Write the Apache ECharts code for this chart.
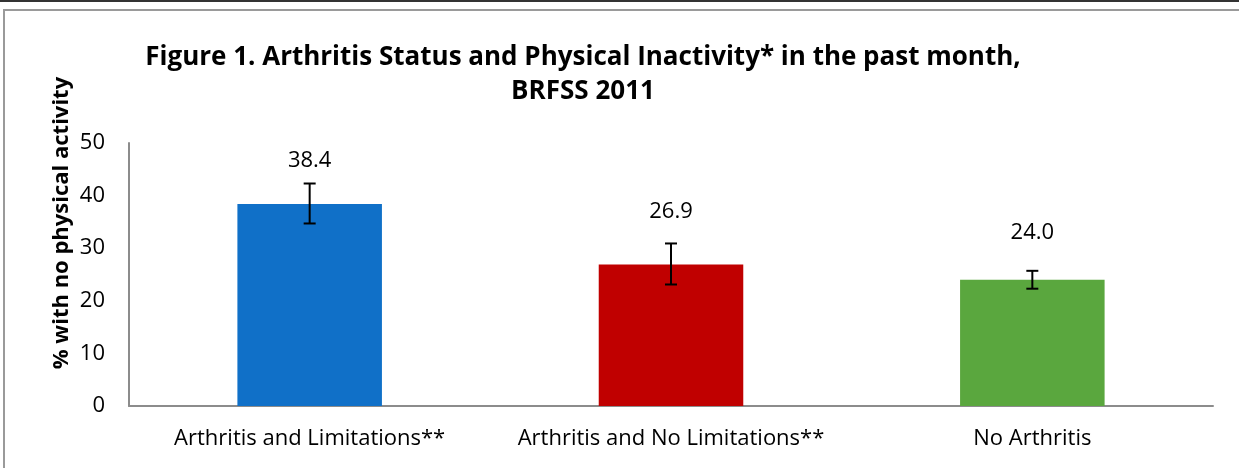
<!DOCTYPE html>
<html>
<head>
<meta charset="utf-8">
<script src="https://cdn.jsdelivr.net/npm/echarts@6/dist/echarts.min.js"></script>
<style>
  html, body { margin: 0; padding: 0; background: #fff; }
  #chart { width: 1239px; height: 468px; }
</style>
</head>
<body>
<div id="chart"></div>
<script>
// 数据
const categories = ['Arthritis and Limitations**', 'Arthritis and No Limitations**', 'No Arthritis']
const values = [38.4, 26.9, 24.0]
const errLow = [34.7, 23.1, 22.3]
const errHigh = [42.3, 30.9, 25.7]
const barColors = ['#1070C8', '#C00000', '#5AA73E']
const labelGap = [32, 42, 36]

const fontFamily = 'Open Sans, Liberation Sans, sans-serif'
const chart = echarts.init(document.getElementById('chart'))

const option = {
  animation: false,
  title: {
    text: 'Figure 1. Arthritis Status and Physical Inactivity* in the past month,\nBRFSS 2011',
    left: 578,
    top: 36,
    textAlign: 'center',
    textStyle: {
      fontFamily: fontFamily,
      fontSize: 26,
      fontWeight: 'bold',
      color: '#000',
      lineHeight: 34
    }
  },
  graphic: [
    { type: 'rect', shape: { x: 0, y: 0, width: 1239, height: 2 }, style: { fill: '#333' } },
    { type: 'rect', shape: { x: 4, y: 10, width: 1250, height: 470 }, style: { fill: 'none', stroke: '#9a9a9a', lineWidth: 2 } },
    // y轴标题
    {
      type: 'text',
      x: 62,
      y: 223,
      rotation: Math.PI / 2,
      style: {
        text: '% with no physical activity',
        font: 'bold 22px ' + fontFamily,
        fill: '#000',
        align: 'center',
        verticalAlign: 'middle'
      }
    }
  ],
  grid: { left: 129, right: 26, top: 143, bottom: 62 },
  xAxis: {
    type: 'category',
    data: categories,
    axisTick: { show: false },
    axisLine: { lineStyle: { color: '#8c8c8c', width: 2 } },
    axisLabel: { interval: 0, hideOverlap: false, fontFamily: fontFamily, fontSize: 22, color: '#000', margin: 22 }
  },
  yAxis: {
    type: 'value',
    min: 0,
    max: 50,
    interval: 10,
    axisTick: { show: false },
    splitLine: { show: false },
    axisLine: { show: true, lineStyle: { color: '#8c8c8c', width: 2 } },
    axisLabel: { fontFamily: fontFamily, fontSize: 22, color: '#000', margin: 24 }
  },
  series: [
    {
      type: 'bar',
      barWidth: '40%',
      data: values.map((v, i) => ({
        value: v,
        itemStyle: { color: barColors[i] },
        label: { distance: labelGap[i] }
      })),
      label: {
        show: true,
        position: 'top',
        fontFamily: fontFamily,
        fontSize: 22,
        color: '#000',
        formatter: p => p.value.toFixed(1)
      }
    },
    {
      // 误差线
      type: 'custom',
      data: categories.map((c, i) => [i, errLow[i], errHigh[i]]),
      renderItem: function (params, api) {
        const lo = api.coord([api.value(0), api.value(1)])
        const hi = api.coord([api.value(0), api.value(2)])
        const x = lo[0]
        const half = 6
        const style = { stroke: '#000', lineWidth: 2 }
        return {
          type: 'group',
          children: [
            { type: 'line', shape: { x1: x, y1: lo[1], x2: x, y2: hi[1] }, style: style },
            { type: 'line', shape: { x1: x - half, y1: lo[1], x2: x + half, y2: lo[1] }, style: style },
            { type: 'line', shape: { x1: x - half, y1: hi[1], x2: x + half, y2: hi[1] }, style: style }
          ]
        }
      },
      z: 5
    }
  ]
}
chart.setOption(option)
</script>
</body>
</html>
